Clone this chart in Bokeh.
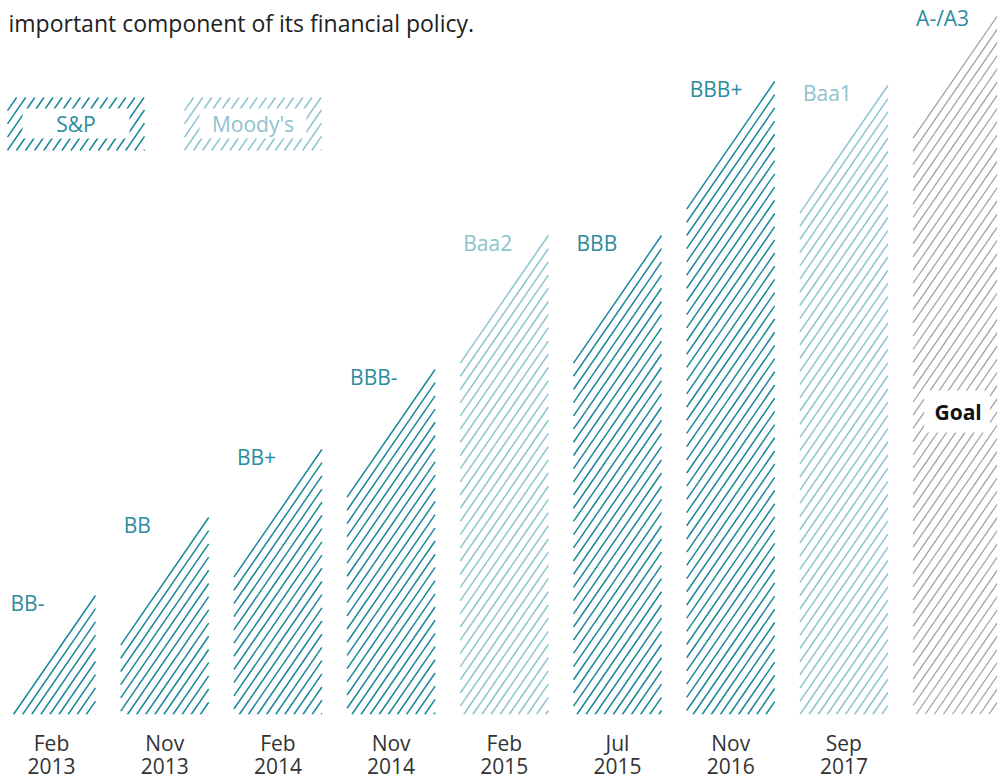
import numpy as np
from bokeh.plotting import figure
from bokeh.models import Range1d, FixedTicker
from bokeh.core.properties import value
from bokeh.embed import file_html
from bokeh.resources import INLINE

# ---------------- data ----------------
dates = ["Feb\n2013", "Nov\n2013", "Feb\n2014", "Nov\n2014", "Feb\n2015",
         "Jul\n2015", "Nov\n2016", "Sep\n2017", ""]
ratings = ["BB-", "BB", "BB+", "BBB-", "Baa2", "BBB", "BBB+", "Baa1", "A-/A3"]
agency = ["S&P", "S&P", "S&P", "S&P", "Moody's", "S&P", "S&P", "Moody's", "Goal"]
level = [119, 197, 265, 345, 479, 479, 633, 629, 704]
legend_names = ["S&P", "Moody's"]
goal_text = "Goal"
intro = "important component of its financial policy."

# ---------------- style / layout ----------------
FONT = "Open Sans"
TEAL = "#18889c"
TEAL_TXT = "#2a8c9e"
LIGHT = "#8cc4cf"
LIGHT_TXT = "#8ec2cd"
GRAY = "#9d9d9d"
line_col = {"S&P": TEAL, "Moody's": LIGHT, "Goal": GRAY}
line_w = {"S&P": 1.5, "Moody's": 1.5, "Goal": 1.2}
text_col = {"S&P": TEAL_TXT, "Moody's": LIGHT_TXT, "Goal": TEAL_TXT}

FW, FH = 997, 714
SLOT = 113.2            # px per category slot
X0 = -51.0 / SLOT
X1 = X0 + FW / SLOT
YMAX = 714
SX = SLOT
SY = FH / YMAX
HALF = 44.0 / SLOT      # half bar width in slot units
K = 1.45                # hatch slope (px/px)
D = 9.1                 # hatch horizontal spacing (px)
GOAL_LABEL_Y = 303


def px(xd):
    return (xd - X0) * SX


def dx(p):
    return X0 + p / SX


def hatch(xl, xr, yb, yt, full=False):
    L, R = px(xl), px(xr)
    B, T = yb * SY, yt * SY
    H = T - B
    c = (L if full else R) - H / K
    xs_l, ys_l = [], []
    while c < R:
        xs = max(L, c)
        ys = K * (xs - c)
        xe = min(R, c + H / K)
        ye = K * (xe - c)
        if ys < H and xe > xs:
            xs_l.append([dx(xs), dx(xe)])
            ys_l.append([(B + ys) / SY, (B + ye) / SY])
        c += D
    return xs_l, ys_l


p = figure(frame_width=FW, frame_height=FH,
           x_range=Range1d(X0, X1), y_range=Range1d(0, YMAX),
           output_backend="svg", toolbar_location=None, min_border=0,
           y_axis_location=None, outline_line_color=None,
           background_fill_color="white", border_fill_color="white")
p.grid.visible = False

ticks = [i for i in range(len(dates)) if dates[i]]
p.xaxis.ticker = FixedTicker(ticks=ticks)
p.xaxis.major_label_overrides = {i: dates[i] for i in ticks}
p.xaxis.axis_line_color = None
p.xaxis.major_tick_line_color = None
p.xaxis.minor_tick_line_color = None
p.xaxis.major_tick_out = 0
p.xaxis.major_tick_in = 0
p.xaxis.major_label_text_font = FONT
p.xaxis.major_label_text_font_size = "21px"
p.xaxis.major_label_text_line_height = 0.85
p.xaxis.major_label_text_color = "#333333"
p.xaxis.major_label_standoff = 14

# bars as hatched shapes
for i, (lv, ag) in enumerate(zip(level, agency)):
    xs, ys = hatch(i - HALF, i + HALF, 0, lv)
    p.multi_line(xs, ys, line_color=line_col[ag], line_width=line_w[ag])

# rating labels
p.text(x=[i - HALF for i in range(len(level))], y=[lv + 7 for lv in level],
       text=ratings, text_color=[text_col[a] for a in agency],
       text_font=value(FONT), text_font_size="21px",
       text_baseline="top", text_align="left", x_offset=3)

# goal label
gi = agency.index("Goal")
p.rect(x=[gi], y=[GOAL_LABEL_Y], width=66, height=42,
       width_units="screen", height_units="screen",
       fill_color="white", line_color=None)
p.text(x=[gi], y=[GOAL_LABEL_Y], text=[goal_text], text_color="#111111",
       text_font=value(FONT), text_font_size="21px", text_font_style="bold",
       text_align="center", text_baseline="middle", x_offset=1)

# legend boxes
LEG_LEFT_PX = [7, 184]
LEG_W, LEG_H = 137, 53
LEG_TOP = 617
BX, BY_T, BY_B = 15, 11, 12
for name, lp in zip(legend_names, LEG_LEFT_PX):
    xl, xr = dx(lp), dx(lp + LEG_W)
    yt = LEG_TOP
    yb = LEG_TOP - LEG_H / SY
    xs, ys = hatch(xl, xr, yb, yt, full=True)
    p.multi_line(xs, ys, line_color=line_col[name], line_width=1.5)
    p.quad(left=[dx(lp + BX)], right=[dx(lp + LEG_W - BX)],
           top=[yt - BY_T / SY], bottom=[yb + BY_B / SY],
           fill_color="white", line_color=None)
    p.text(x=[(xl + xr) / 2], y=[(yt + yb) / 2 + 0.5], text=[name],
           text_color=text_col[name], text_font=value(FONT),
           text_font_size="21px", text_align="center", text_baseline="middle")

# intro text (cut paragraph at top)
p.text(x=[dx(8)], y=[692], text=[intro], text_color="#222222",
       text_font=value(FONT), text_font_size="23px",
       text_baseline="alphabetic", text_align="left")

open("out.html", "w").write(file_html(p, INLINE))
